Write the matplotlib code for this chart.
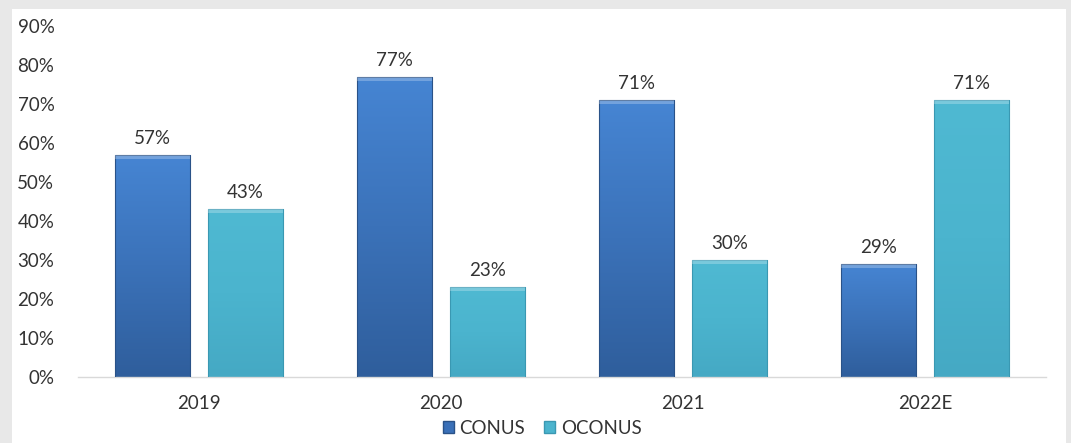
import matplotlib
matplotlib.use("Agg")
import matplotlib.pyplot as plt
import numpy as np
from matplotlib.patches import Rectangle
from matplotlib.colors import LinearSegmentedColormap

categories = ["2019", "2020", "2021", "2022E"]
conus = [57, 77, 71, 29]
oconus = [43, 23, 30, 71]
series_names = ["CONUS", "OCONUS"]
yticks = [0, 10, 20, 30, 40, 50, 60, 70, 80, 90]

plt.rcParams['font.family'] = ['Lato', 'DejaVu Sans']
FS = 13.5
TC = '#333333'

fig = plt.figure(figsize=(10.71, 4.43), dpi=100)
fig.patch.set_facecolor('#e8e8e8')
fig.patches.append(Rectangle((12/1071, 0), (1066-12)/1071, 1-9/443, transform=fig.transFigure,
                             facecolor='white', edgecolor='none', zorder=-10))

ax = fig.add_axes([78/1071, 1-377/443, (1046-78)/1071, (377-26)/443])
ax.set_facecolor('none')

cmap_c = LinearSegmentedColormap.from_list('c', ['#2f5e9c', '#3b72b9', '#4685d3'])
cmap_o = LinearSegmentedColormap.from_list('o', ['#45a9c4', '#4bb4ce', '#4fb9d2'])

w = 0.31
off = 0.192
x = np.arange(len(categories))
grad = np.linspace(0, 1, 256).reshape(-1, 1)

for vals, sign, cmap, edge in [(conus, -1, cmap_c, '#2a5288'), (oconus, 1, cmap_o, '#3a98b2')]:
    bars = ax.bar(x + sign*off, vals, width=w, color='none', edgecolor=edge, linewidth=0.8, zorder=3)
    for b, v in zip(bars, vals):
        x0 = b.get_x()
        im = ax.imshow(grad, extent=[x0, x0+w, 0, v], origin='lower', aspect='auto',
                       cmap=cmap, zorder=2)
        im.set_clip_path(b)
        ax.add_patch(Rectangle((x0, v-1.0), w, 1.0, facecolor='white', alpha=0.25,
                               edgecolor='none', zorder=3))
        ax.text(b.get_x()+w/2, v+2.0, f"{v}%", ha='center', va='bottom', fontsize=FS,
                color=TC, zorder=4)

ax.set_xlim(-0.5, len(categories)-0.5)
ax.set_ylim(0, 90)
ax.set_xticks(x)
ax.set_xticklabels(categories, fontsize=FS, color=TC)
ax.set_yticks(yticks)
ax.set_yticklabels([f"{t}%" for t in yticks], fontsize=FS, color=TC)
ax.tick_params(axis='both', length=0)
ax.tick_params(axis='y', pad=17)
ax.tick_params(axis='x', pad=13)
for s in ['top', 'right', 'left']:
    ax.spines[s].set_visible(False)
ax.spines['bottom'].set_color('#d9d9d9')
ax.spines['bottom'].set_linewidth(1.0)

handles = [Rectangle((0, 0), 1, 1, facecolor='#3a70b8', edgecolor='#2a5288'),
           Rectangle((0, 0), 1, 1, facecolor='#4bb4ce', edgecolor='#3a98b2')]
fig.legend(handles, series_names, loc='center', bbox_to_anchor=(542/1071, 1-428/443),
           ncol=2, frameon=False, fontsize=FS, handlelength=0.6, handleheight=0.6,
           handletextpad=0.3, columnspacing=1.0, labelcolor=TC)

fig.savefig('out.png', dpi=100, facecolor=fig.get_facecolor())
